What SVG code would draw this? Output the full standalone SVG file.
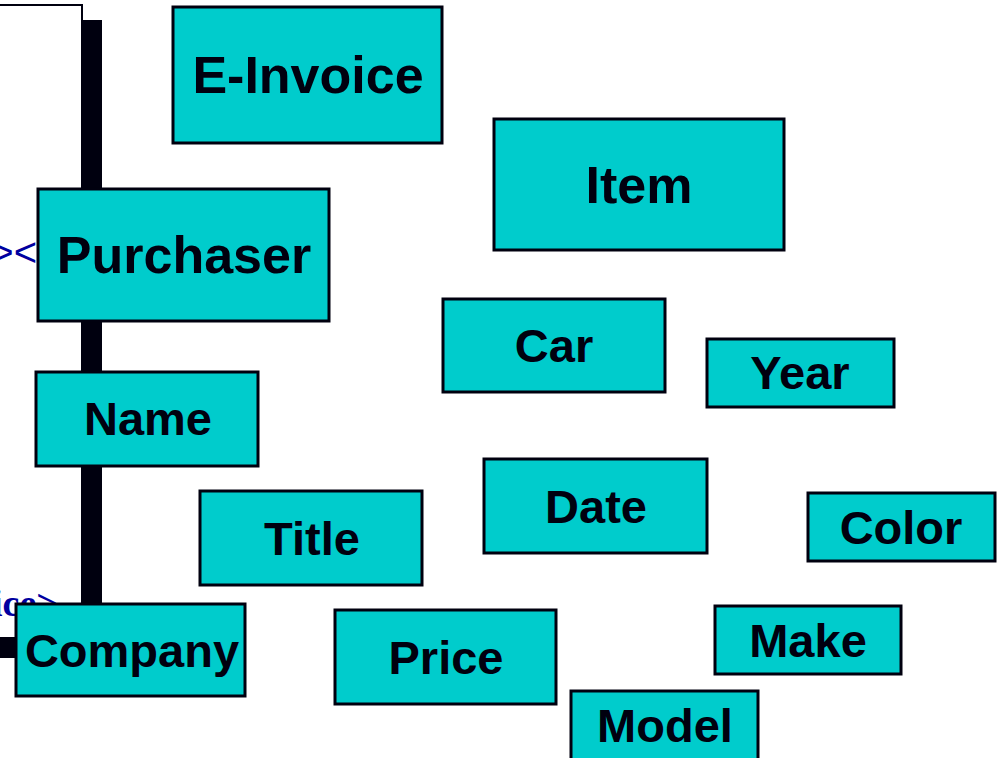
<svg xmlns="http://www.w3.org/2000/svg" width="1001" height="758" viewBox="0 0 1001 758">
<style>
.n{fill:#00CCCC;stroke:#00000F;stroke-width:3}
.t{font-family:"Liberation Sans",Arial,sans-serif;font-weight:bold;fill:#00000F;text-anchor:middle}
.b{font-size:52px}
.s{font-size:47px}
.blue{fill:#0000A0}
</style>
<rect width="1001" height="758" fill="#FFFFFF"/>
<g id="window">
<rect x="-10" y="5" width="92" height="640" fill="#FFFFFF" stroke="#00000F" stroke-width="2"/>
<text x="37" y="266" text-anchor="end" font-family="Liberation Sans,Arial,sans-serif" font-size="40" class="blue">&gt;&lt;</text>
<text x="-8" y="616" font-family="Liberation Serif,'Times New Roman',serif" font-weight="bold" font-size="38" class="blue">ice&gt;</text>
<rect x="82" y="20" width="20" height="638" fill="#00000F"/>
<rect x="-10" y="637" width="112" height="21" fill="#00000F"/>
</g>
<g id="connectors"></g>
<g id="e-invoice"><rect class="n" x="173" y="7" width="269" height="136"/><text class="t b" x="308" y="93">E-Invoice</text></g>
<g id="item"><rect class="n" x="494" y="119" width="290" height="131"/><text class="t b" x="639" y="203">Item</text></g>
<g id="purchaser"><rect class="n" x="38" y="189" width="291" height="132"/><text class="t b" x="184" y="273">Purchaser</text></g>
<g id="car"><rect class="n" x="443" y="299" width="222" height="93"/><text class="t s" x="554" y="362">Car</text></g>
<g id="year"><rect class="n" x="707" y="339" width="187" height="68"/><text class="t s" x="800" y="389">Year</text></g>
<g id="name"><rect class="n" x="36" y="372" width="222" height="94"/><text class="t s" x="148" y="435">Name</text></g>
<g id="date"><rect class="n" x="484" y="459" width="223" height="94"/><text class="t s" x="596" y="523">Date</text></g>
<g id="title"><rect class="n" x="200" y="491" width="222" height="94"/><text class="t s" x="312" y="555">Title</text></g>
<g id="color"><rect class="n" x="808" y="493" width="187" height="68"/><text class="t s" x="901" y="544">Color</text></g>
<g id="company"><rect class="n" x="16" y="604" width="229" height="92"/><text class="t s" x="132" y="667">Company</text></g>
<g id="price"><rect class="n" x="335" y="610" width="221" height="94"/><text class="t s" x="446" y="674">Price</text></g>
<g id="make"><rect class="n" x="715" y="606" width="186" height="68"/><text class="t s" x="808" y="657">Make</text></g>
<g id="model"><rect class="n" x="571" y="691" width="187" height="80"/><text class="t s" x="665" y="742">Model</text></g>
</svg>
